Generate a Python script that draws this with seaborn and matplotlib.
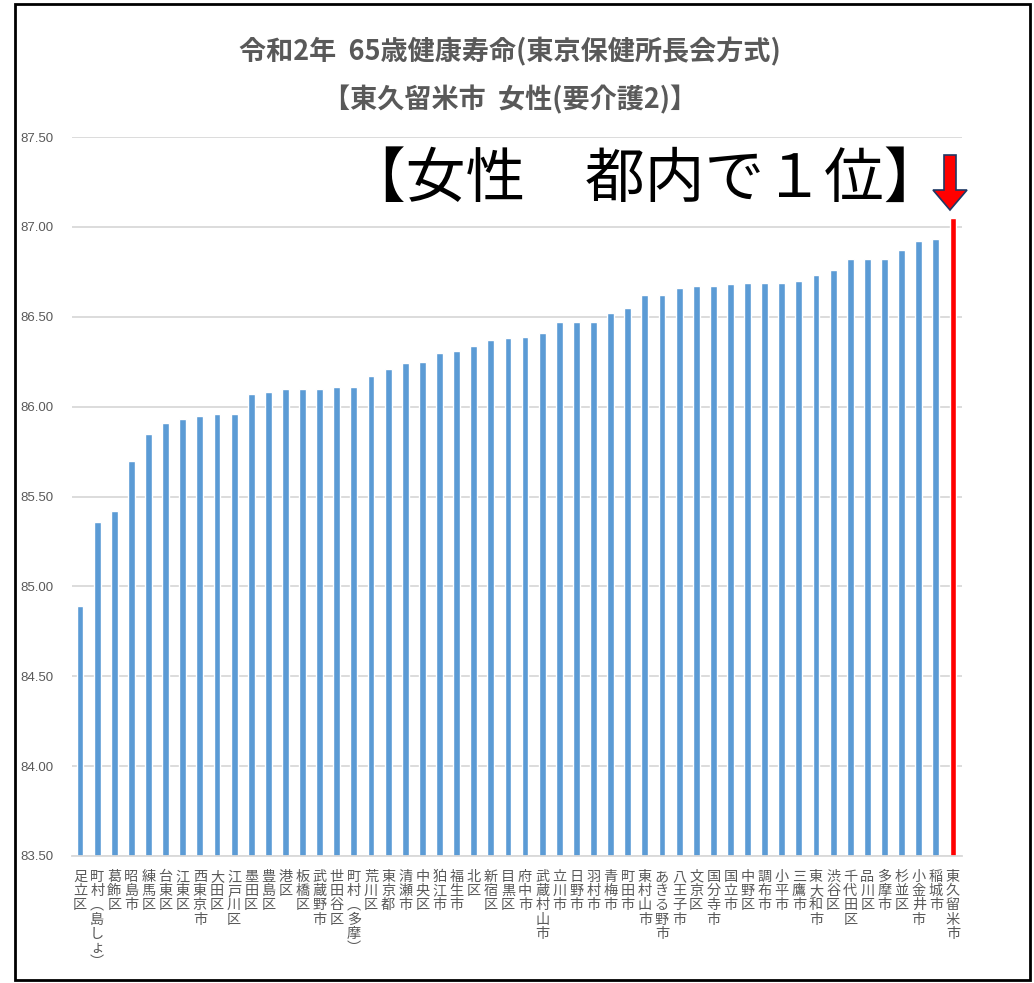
import matplotlib
matplotlib.use("Agg")
import matplotlib.pyplot as plt
import seaborn as sns
from matplotlib.patches import Rectangle, Polygon

areas = ["足立区", "町村︵島しょ︶", "葛飾区", "昭島市", "練馬区", "台東区", "江東区", "西東京市",
         "大田区", "江戸川区", "墨田区", "豊島区", "港区", "板橋区", "武蔵野市", "世田谷区",
         "町村︵多摩︶", "荒川区", "東京都", "清瀬市", "中央区", "狛江市", "福生市", "北区",
         "新宿区", "目黒区", "府中市", "武蔵村山市", "立川市", "日野市", "羽村市", "青梅市",
         "町田市", "東村山市", "あきる野市", "八王子市", "文京区", "国分寺市", "国立市", "中野区",
         "調布市", "小平市", "三鷹市", "東大和市", "渋谷区", "千代田区", "品川区", "多摩市",
         "杉並区", "小金井市", "稲城市", "東久留米市"]
values = [84.89, 85.36, 85.42, 85.70, 85.85, 85.91, 85.93, 85.95,
          85.96, 85.96, 86.07, 86.08, 86.10, 86.10, 86.10, 86.11,
          86.11, 86.17, 86.21, 86.24, 86.25, 86.30, 86.31, 86.34,
          86.37, 86.38, 86.39, 86.41, 86.47, 86.47, 86.47, 86.52,
          86.55, 86.62, 86.62, 86.66, 86.67, 86.67, 86.68, 86.69,
          86.69, 86.69, 86.70, 86.73, 86.76, 86.82, 86.82, 86.82,
          86.87, 86.92, 86.93, 87.05]
highlight = "東久留米市"
yticks = [83.5, 84.0, 84.5, 85.0, 85.5, 86.0, 86.5, 87.0, 87.5]

title1 = "令和2年  65歳健康寿命(東京保健所長会方式)"
title2 = "【東久留米市  女性(要介護2)】"
note = "【女性　都内で１位】"

BLUE = "#5B9BD5"
RED = "#FF0000"
GRAY = "#595959"

sns.set_theme(style="white")
plt.rcParams["font.family"] = ["Noto Sans CJK JP", "DejaVu Sans"]

W, H = 1034, 983
fig = plt.figure(figsize=(W / 100, H / 100), dpi=100)
ax = fig.add_axes([71.5 / W, 1 - 856 / H, (961.5 - 71.5) / W, (856 - 137) / H])

palette = [RED if a == highlight else BLUE for a in areas]
sns.barplot(x=areas, y=values, hue=areas, palette=palette, legend=False,
            width=0.4, ax=ax, saturation=1)

ax.set_ylim(83.5, 87.5)
ax.set_xlim(-0.5, len(areas) - 0.5)
ax.set_yticks(yticks)
ax.set_yticklabels([f"{t:.2f}" for t in yticks], color=GRAY, fontsize=9.5,
                   family=["Liberation Sans"])
ax.yaxis.grid(True, color="#D9D9D9", linewidth=1.3)
ax.set_axisbelow(True)
for s in ["top", "right", "left"]:
    ax.spines[s].set_visible(False)
ax.spines["bottom"].set_color("#D9D9D9")
ax.spines["bottom"].set_linewidth(1.3)
ax.tick_params(axis="y", length=0, pad=13)
ax.tick_params(axis="x", length=0, pad=10)
ax.set_xticks(range(len(areas)))
ax.set_xticklabels(["\n".join(a) for a in areas], rotation=0, fontsize=10.2,
                   color=GRAY, va="top", linespacing=1.02)
ax.set_xlabel("")
ax.set_ylabel("")

fig.text(510 / W, 1 - 52 / H, title1, ha="center", va="center", fontsize=19.5,
         fontweight="bold", color=GRAY)
fig.text(510 / W, 1 - 100 / H, title2, ha="center", va="center", fontsize=19.5,
         fontweight="bold", color=GRAY)
fig.text(645 / W, 1 - 180 / H, note, ha="center", va="center", fontsize=43,
         color="black")

arrow_px = [(944, 155), (956, 155), (956, 190), (967, 190), (950, 210), (933, 190), (944, 190)]
fig.patches.append(Polygon([(x / W, 1 - y / H) for x, y in arrow_px], closed=True,
                           transform=fig.transFigure, facecolor=RED,
                           edgecolor="#1F3864", linewidth=1.2))

fig.patches.append(Rectangle((15 / W, 1 - 980 / H), (1030 - 15) / W, (980 - 4) / H,
                             transform=fig.transFigure, fill=False,
                             edgecolor="black", linewidth=2))

fig.savefig("out.png", dpi=100, facecolor="white")
